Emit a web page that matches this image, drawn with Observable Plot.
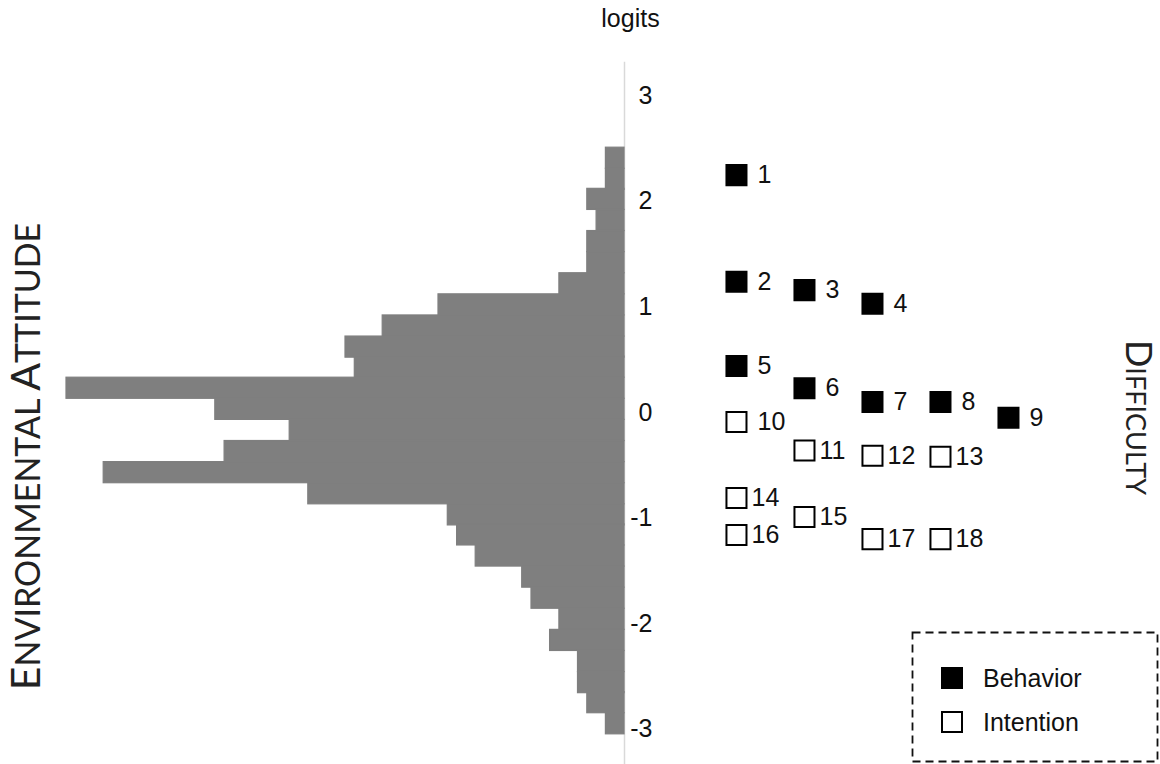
<!DOCTYPE html>
<html>
<head>
<meta charset="utf-8">
<script src="https://cdn.jsdelivr.net/npm/d3@7"></script>
<script src="https://cdn.jsdelivr.net/npm/@observablehq/plot@0.6"></script>
<style>
  body { margin: 0; background: #fff; }
  #wrap { position: relative; width: 1160px; height: 764px; }
  #legend { position: absolute; left: 910px; top: 630px; }
</style>
</head>
<body>
<div id="wrap"></div>
<script>
// ---- Person distribution (histogram of person measures, logits) ----
const binCenters = [2.41, 2.21, 2.02, 1.82, 1.62, 1.42, 1.22, 1.02, 0.82, 0.62,
                    0.43, 0.23, 0.03, -0.17, -0.37, -0.57, -0.77, -0.97, -1.16, -1.36,
                    -1.56, -1.76, -1.96, -2.16, -2.36, -2.56, -2.75, -2.95];
const binCounts  = [2, 2, 4, 3, 4, 4, 7, 20, 26, 30,
                    29, 60, 44, 36, 43, 56, 34, 19, 18, 16,
                    11, 10, 7, 8, 5, 5, 4, 2];
const binHalf = 0.1;

// ---- Items (difficulty, logits) ----
const itemIds     = [1, 2, 3, 4, 5, 6, 7, 8, 9, 10, 11, 12, 13, 14, 15, 16, 17, 18];
const itemLogits  = [2.25, 1.24, 1.16, 1.03, 0.44, 0.23, 0.10, 0.10, -0.05, -0.09,
                     -0.36, -0.41, -0.42, -0.81, -0.99, -1.16, -1.20, -1.20];
const itemTypes   = ["Behavior","Behavior","Behavior","Behavior","Behavior","Behavior","Behavior","Behavior","Behavior",
                     "Intention","Intention","Intention","Intention","Intention","Intention","Intention","Intention","Intention"];
const itemColumns = [1, 1, 2, 3, 1, 2, 3, 4, 5, 1, 2, 3, 4, 1, 2, 1, 3, 4];

const yTicks = [3, 2, 1, 0, -1, -2, -3];
const axisTop = 3.32;
const legendLabels = ["Behavior", "Intention"];
const leftTitle = "Environmental Attitude";
const rightTitle = "Difficulty";

const bins = binCenters.map((c, i) => ({c, count: binCounts[i]}));
const items = itemIds.map((id, i) => ({id, logit: itemLogits[i], type: itemTypes[i], col: itemColumns[i]}));

const colX = c => 12.04 + (c - 1) * 7.312;
const numFont = "Liberation Sans, Arial, sans-serif";
const titleFont = "Lato, 'Open Sans', sans-serif";

const chart = Plot.plot({
  width: 1160,
  height: 764,
  marginTop: 0, marginBottom: 0, marginLeft: 0, marginRight: 0,
  x: {domain: [-624 / 9.3, 536 / 9.3], axis: null},
  y: {domain: [-3.336, 3.905], axis: null},
  style: {background: "#fff", fontFamily: numFont},
  marks: [
    Plot.ruleX([0], {y1: axisTop, y2: -3.336, stroke: "#d9d9d9", strokeWidth: 1.5}),
    Plot.rect(bins, {
      x1: d => -d.count, x2: 0,
      y1: d => d.c - binHalf, y2: d => d.c + binHalf,
      fill: "#7f7f7f", stroke: "#7f7f7f", strokeWidth: 1.2, strokeLinejoin: "miter"
    }),
    Plot.text(yTicks, {x: 0, y: d => d, text: d => String(d),
      dx: 28, textAnchor: "end", fontSize: 25, fill: "#111"}),
    Plot.text(["logits"], {x: 0, frameAnchor: "top", text: d => d, dx: 6, dy: 9,
      lineAnchor: "top", fontSize: 25, fill: "#111"}),
    Plot.dot(items, {
      x: d => colX(d.col), y: "logit", symbol: "square", r: 11.3,
      fill: d => d.type === "Behavior" ? "#000" : "#fff",
      stroke: "#000", strokeWidth: 2
    }),
    Plot.text(items.filter(d => d.id <= 10), {
      x: d => colX(d.col), y: "logit", text: d => String(d.id),
      dx: 21, textAnchor: "start", fontSize: 25, fill: "#111"
    }),
    Plot.text(items.filter(d => d.id > 10), {
      x: d => colX(d.col), y: "logit", text: d => String(d.id),
      dx: 15, textAnchor: "start", fontSize: 25, fill: "#111"
    }),
    Plot.text([leftTitle], {
      frameAnchor: "left", text: d => d, rotate: -90, dx: 39, dy: 74,
      lineAnchor: "bottom", textAnchor: "middle", fontSize: 41,
      fontFamily: titleFont, fill: "#222"
    }),
    Plot.text([rightTitle], {
      frameAnchor: "right", text: d => d, rotate: 90, dx: -35, dy: 35,
      lineAnchor: "bottom", textAnchor: "middle", fontSize: 36,
      fontFamily: titleFont, fill: "#222"
    })
  ]
});

// Render the two titles in small capitals: first letter of each word large, rest smaller caps
function smallCaps(textEl, bigSize, smallSize) {
  const s = textEl.textContent;
  const sel = d3.select(textEl);
  sel.text(null);
  s.split(" ").forEach((word, wi, arr) => {
    sel.append("tspan").attr("font-size", bigSize).text(word[0].toUpperCase());
    sel.append("tspan").attr("font-size", smallSize)
      .text(word.slice(1).toUpperCase() + (wi < arr.length - 1 ? " " : ""));
  });
}
d3.select(chart).selectAll("text").each(function () {
  if (this.textContent === leftTitle) smallCaps(this, 41, 34);
  else if (this.textContent === rightTitle) smallCaps(this, 36, 27);
});

const wrap = document.getElementById("wrap");
wrap.appendChild(chart);

// ---- Legend (dashed box, bottom right) ----
const legend = d3.select(wrap).append("div").attr("id", "legend")
  .append("svg").attr("width", 250).attr("height", 134);
legend.append("rect").attr("x", 2.5).attr("y", 2.5).attr("width", 245).attr("height", 129)
  .attr("fill", "none").attr("stroke", "#111").attr("stroke-width", 1.8)
  .attr("stroke-dasharray", "8 5");
legendLabels.forEach((lab, i) => {
  const cy = 48 + i * 44;
  legend.append("rect").attr("x", 32).attr("y", cy - 10).attr("width", 20).attr("height", 20)
    .attr("fill", lab === "Behavior" ? "#000" : "#fff").attr("stroke", "#000").attr("stroke-width", 2);
  legend.append("text").attr("x", 73).attr("y", cy + 9).attr("font-size", 25)
    .attr("font-family", numFont).attr("fill", "#111").text(lab);
});
</script>
</body>
</html>
